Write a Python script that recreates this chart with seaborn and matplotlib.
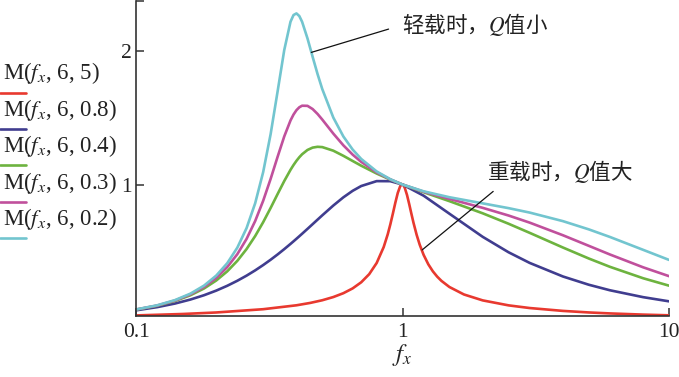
import matplotlib
matplotlib.use('Agg')
import matplotlib.pyplot as plt
import seaborn as sns
from matplotlib.lines import Line2D
from matplotlib.ticker import NullLocator

# frequency ratio fx (shared by the light-load curves)
fx = [0.1, 0.12, 0.14, 0.16, 0.18, 0.2, 0.22, 0.24, 0.26, 0.28, 0.3, 0.32, 0.34, 0.36,
      0.38, 0.39, 0.4, 0.41, 0.42, 0.44, 0.46, 0.48, 0.5, 0.55, 0.6, 0.65, 0.7, 0.8, 0.9,
      1.0, 1.2, 1.5, 2, 2.5, 3, 4, 5, 6, 8, 10]

# gain M(fx, 6, Q)
m_q08 = [0.0575, 0.0813, 0.1083, 0.1383, 0.1707, 0.2052, 0.2414, 0.2790, 0.3175, 0.3568,
         0.3966, 0.4365, 0.4764, 0.5160, 0.5552, 0.5745, 0.5936, 0.6125, 0.6312, 0.6677,
         0.7030, 0.7369, 0.7692, 0.8426, 0.9041, 0.9528, 0.9888, 1.0255, 1.0250, 1.0,
         0.9165, 0.7813, 0.6080, 0.4925, 0.4128, 0.3110, 0.2493, 0.2079, 0.1561, 0.1249]
m_q04 = [0.0625, 0.0916, 0.1273, 0.1703, 0.2212, 0.2808, 0.3497, 0.4284, 0.5168, 0.6139,
         0.7177, 0.8244, 0.9292, 1.0262, 1.1102, 1.1461, 1.1775, 1.2044, 1.2268, 1.2590,
         1.2766, 1.2827, 1.2804, 1.2535, 1.2151, 1.1764, 1.1410, 1.0823, 1.0367, 1.0,
         0.9424, 0.8754, 0.7843, 0.7062, 0.6381, 0.5280, 0.4458, 0.3836, 0.2978, 0.2423]
m_q03 = [0.0634, 0.0935, 0.1310, 0.1771, 0.2330, 0.3005, 0.3816, 0.4784, 0.5929, 0.7264,
         0.8779, 1.0422, 1.2086, 1.3604, 1.4802, 1.5242, 1.5570, 1.5787, 1.5905, 1.5895,
         1.5655, 1.5288, 1.4866, 1.3817, 1.2936, 1.2242, 1.1697, 1.0914, 1.0384, 1.0,
         0.9464, 0.8922, 0.8253, 0.7678, 0.7146, 0.6199, 0.5408, 0.4760, 0.3797, 0.3135]
m_q02 = [0.0640, 0.0949, 0.1339, 0.1825, 0.2427, 0.3175, 0.4106, 0.5271, 0.6740, 0.8596,
         1.0927, 1.3773, 1.6993, 2.0078, 2.2198, 2.2698, 2.2820, 2.2624, 2.2193, 2.0949,
         1.9568, 1.8278, 1.7150, 1.5017, 1.3599, 1.2620, 1.1915, 1.0980, 1.0397, 1.0,
         0.9492, 0.9048, 0.8589, 0.8231, 0.7899, 0.7256, 0.6641, 0.6073, 0.5106, 0.4353]

# heavy load curve (Q = 5) has its own, denser grid around fx = 1
fx_red = [0.1, 0.15, 0.2, 0.3, 0.4, 0.45, 0.5, 0.55, 0.6, 0.65, 0.7, 0.75, 0.8, 0.85, 0.88,
          0.9, 0.92, 0.94, 0.96, 0.98, 0.99, 1.0, 1.01, 1.02, 1.04, 1.06, 1.08, 1.1, 1.13,
          1.16, 1.2, 1.25, 1.3, 1.35, 1.4, 1.5, 1.7, 2, 2.5, 3, 4, 5, 6, 8, 10]
m_q5 = [0.0193, 0.0301, 0.0414, 0.0659, 0.0952, 0.1128, 0.1330, 0.1570, 0.1859, 0.2218,
        0.2677, 0.3285, 0.4123, 0.5315, 0.6264, 0.7006, 0.7815, 0.8639, 0.9372, 0.9867,
        0.9983, 1.0, 0.9919, 0.9749, 0.9209, 0.8522, 0.7805, 0.7125, 0.6232, 0.5499,
        0.4732, 0.4021, 0.3496, 0.3096, 0.2782, 0.2322, 0.1764, 0.1319, 0.0947, 0.0747,
        0.0532, 0.0416, 0.0343, 0.0254, 0.0202]

labels = ['M($f_x$, 6, 5)', 'M($f_x$, 6, 0.8)', 'M($f_x$, 6, 0.4)',
          'M($f_x$, 6, 0.3)', 'M($f_x$, 6, 0.2)']
colors = ['#e8392f', '#403d8f', '#6db33f', '#c0509c', '#72c5cf']

sns.set_style('ticks')
plt.rcParams['font.family'] = ['Liberation Serif', 'DejaVu Serif']
plt.rcParams['mathtext.fontset'] = 'stix'
cjk = ['Noto Sans CJK SC', 'DejaVu Sans']

fig = plt.figure(figsize=(6.79, 3.77), dpi=100)
ax = fig.add_axes([136 / 679, 61 / 377, 533 / 679, 315 / 377])

series = [(fx_red, m_q5), (fx, m_q08), (fx, m_q04), (fx, m_q03), (fx, m_q02)]
for (xs, ys), c in zip(series, colors):
    sns.lineplot(x=xs, y=ys, ax=ax, color=c, linewidth=1.9, estimator=None, sort=False)

ax.set_xscale('log')
ax.set_xlim(0.1, 10)
ax.set_ylim(0.015, 2.375)
ax.set_xticks([0.1, 1, 10])
ax.set_xticklabels(['0.1', '1', '10'])
ax.xaxis.set_minor_locator(NullLocator())
ax.set_yticks([1, 2, 2.375])
ax.set_yticklabels(['1', '2', ''])
ax.tick_params(axis='both', direction='in', length=6, width=1.1, color='#333333',
               labelsize=15.5, labelcolor='#222222')
ax.tick_params(axis='x', pad=5)
ax.tick_params(axis='y', pad=3)
for s in ['top', 'right']:
    ax.spines[s].set_visible(False)
for s in ['left', 'bottom']:
    ax.spines[s].set_linewidth(1.2)
    ax.spines[s].set_color('#333333')
ax.set_xlabel('$f_x$', fontsize=18, labelpad=0)
ax.set_ylabel('')

# legend drawn outside the axes: text with a short line underneath
text_base = [79, 116, 152, 189, 225]
line_y = [93, 129, 165, 202, 238]
for lab, c, tb, ly in zip(labels, colors, text_base, line_y):
    fig.text(3 / 679, 1 - tb / 377, lab, fontsize=16.5, va='baseline', ha='left',
             color='#222222')
    fig.add_artist(Line2D([0, 26 / 679], [1 - ly / 377] * 2, color=c, lw=1.9))

ax.annotate('轻载时，$Q$值小', xy=(0.455, 1.99), xytext=(1.0, 2.196),
            ha='left', va='center', fontsize=15.5, family=cjk, color='#222222',
            annotation_clip=False,
            arrowprops=dict(arrowstyle='-', color='#111111', lw=0.9,
                            relpos=(0, 0.5), shrinkA=8, shrinkB=0))
ax.annotate('重载时，$Q$值大', xy=(1.185, 0.51), xytext=(2.08, 1.094),
            ha='left', va='center', fontsize=15.5, family=cjk, color='#222222',
            annotation_clip=False,
            arrowprops=dict(arrowstyle='-', color='#111111', lw=0.9,
                            relpos=(0.09, 0), shrinkA=3, shrinkB=0))

fig.savefig('out.png', dpi=100)
